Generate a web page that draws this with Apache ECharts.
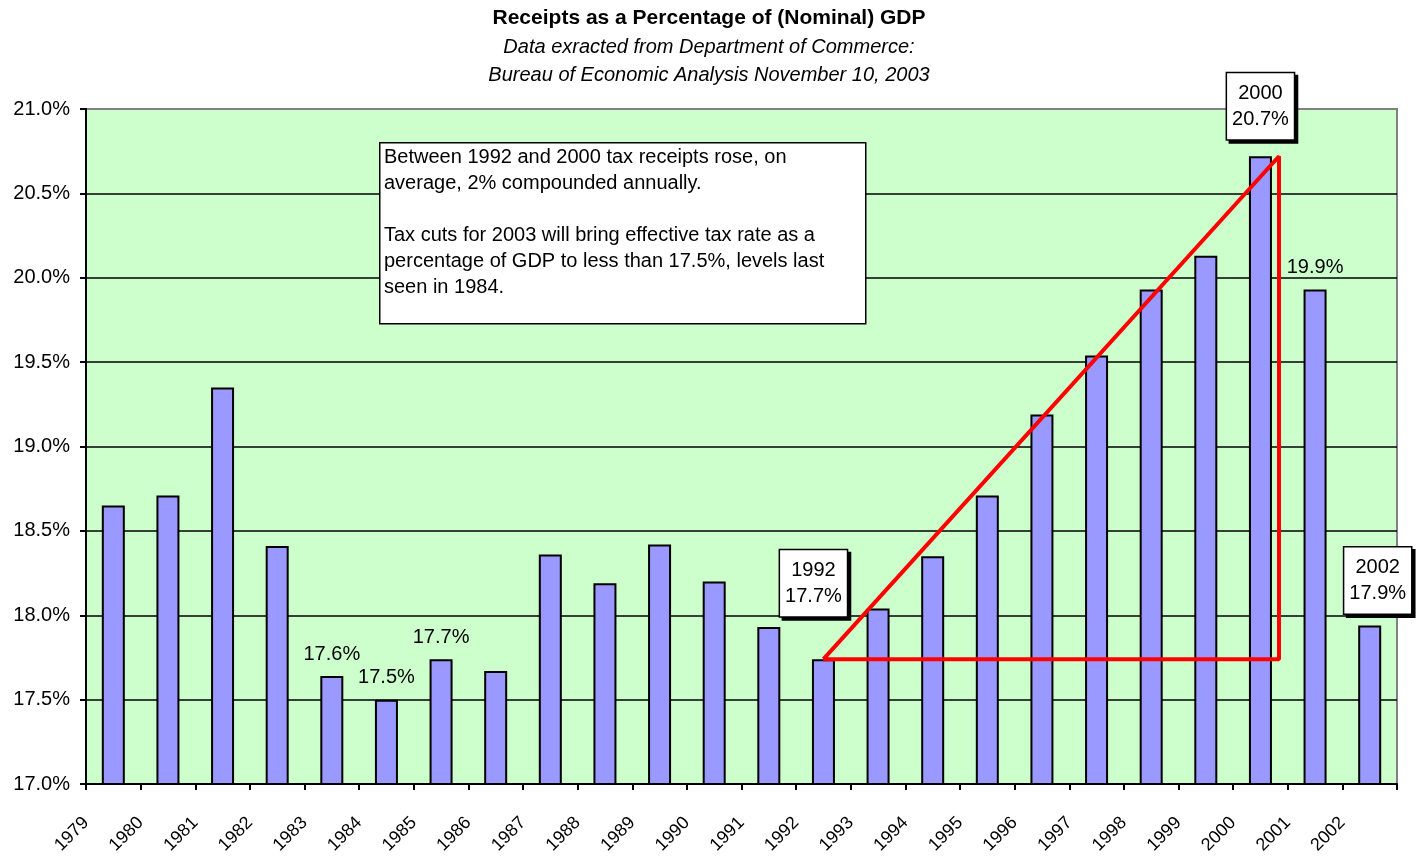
<!DOCTYPE html>
<html>
<head>
<meta charset="utf-8">
<script src="https://cdn.jsdelivr.net/npm/echarts@6/dist/echarts.min.js"></script>
<style>
  html, body { margin: 0; padding: 0; background: #fff; }
  #chart { width: 1418px; height: 860px; }
</style>
</head>
<body>
<div id="chart"></div>
<script>
// ---- data ----
const years = ['1979','1980','1981','1982','1983','1984','1985','1986','1987','1988','1989','1990',
               '1991','1992','1993','1994','1995','1996','1997','1998','1999','2000','2001','2002'];
const receipts = [18.65, 18.71, 19.35, 18.41, 17.64, 17.50, 17.74, 17.67, 18.36, 18.19, 18.42, 18.20,
                  17.93, 17.74, 18.04, 18.35, 18.71, 19.19, 19.54, 19.93, 20.13, 20.72, 19.93, 17.94];
const yMin = 17.0, yMax = 21.0, yStep = 0.5;
const valueLabelYears = ['1983', '1984', '1985', '2001'];
const calloutYears = ['1992', '2000', '2002'];
const trendStartYear = '1992', trendEndYear = '2000';
const titleText = 'Receipts as a Percentage of (Nominal) GDP';
const subtitleLines = ['Data exracted from Department of Commerce:', 'Bureau of Economic Analysis November 10, 2003'];
const noteLines = [
  'Between 1992 and 2000 tax receipts rose, on',
  'average, 2% compounded annually.',
  '',
  'Tax cuts for 2003 will bring effective tax rate as a',
  'percentage of GDP to less than 17.5%, levels last',
  'seen in 1984.'
];

// ---- styling ----
const FONT = '"Liberation Sans", Arial, sans-serif';
const pct = v => v.toFixed(1) + '%';
const calloutPlacement = { '1992': { distance: 43, offset: [-10, 0] },
                           '2000': { distance: 17, offset: [0, 0] },
                           '2002': { distance: 12, offset: [8, 0] } };

const barData = receipts.map((v, i) => {
  const y = years[i];
  if (calloutYears.includes(y)) {
    const p = calloutPlacement[y];
    return { value: v, label: {
      show: true, position: 'top', distance: p.distance, offset: p.offset,
      formatter: y + '\n' + pct(v),
      fontFamily: FONT, fontSize: 20, color: '#000', lineHeight: 26, align: 'center',
      backgroundColor: '#fff', borderColor: '#000', borderWidth: 1.5, padding: [7, 5, 7, 5],
      shadowColor: '#000', shadowOffsetX: 3, shadowOffsetY: 3, shadowBlur: 0
    } };
  }
  if (valueLabelYears.includes(y)) {
    return { value: v, label: { show: true, position: 'top', distance: 12,
      formatter: pct(v), fontFamily: FONT, fontSize: 20, color: '#000' } };
  }
  return v;
});

const iS = years.indexOf(trendStartYear), iE = years.indexOf(trendEndYear);
const base = receipts[iS], peak = receipts[iE];
const apexX = iE + 0.5 + 0.34;
const trendData = [[iS + 0.5, base], [apexX, peak], [apexX, base], [iS + 0.5, base]];

const splitColors = [];
for (let v = yMin; v <= yMax + 1e-9; v += yStep) splitColors.push(v >= yMax - 1e-9 ? '#808080' : '#000');

const chart = echarts.init(document.getElementById('chart'), null, { renderer: 'canvas' });
chart.setOption({
  animation: false,
  backgroundColor: '#fff',
  textStyle: { fontFamily: FONT },
  title: {
    text: titleText,
    subtext: subtitleLines.join('\n'),
    left: 'center', top: 6, padding: 0, itemGap: 3,
    textStyle: { fontFamily: FONT, fontSize: 21, fontWeight: 'bold', color: '#000', lineHeight: 24 },
    subtextStyle: { fontFamily: FONT, fontSize: 20, fontStyle: 'italic', color: '#000', lineHeight: 28 }
  },
  grid: { left: 86, right: 21, top: 109, bottom: 76, show: true,
          backgroundColor: '#ccffcc', borderColor: '#808080', borderWidth: 2 },
  xAxis: [{
    type: 'category', data: years, position: 'bottom',
    axisLine: { show: true, lineStyle: { color: '#000', width: 2 } },
    axisTick: { show: false }, axisLabel: { show: false }, splitLine: { show: false }
  }, {
    type: 'value', min: 0, max: years.length, interval: 1, position: 'bottom',
    axisLine: { show: false },
    axisTick: { show: true, length: 6, lineStyle: { color: '#000', width: 2 } },
    splitLine: { show: false },
    axisLabel: { show: true, rotate: 45, margin: 36, fontFamily: FONT, fontSize: 18, color: '#000',
                 formatter: v => (years[v] !== undefined ? years[v] : '') }
  }],
  yAxis: {
    type: 'value', min: yMin, max: yMax, interval: yStep,
    axisLine: { show: true, lineStyle: { color: '#000', width: 2 } },
    axisTick: { show: true, length: 6, lineStyle: { color: '#000', width: 2 } },
    axisLabel: { margin: 16, fontFamily: FONT, fontSize: 20, color: '#000', formatter: v => pct(v) },
    splitLine: { show: true, lineStyle: { color: splitColors, width: 1.5 } }
  },
  series: [{
    type: 'bar', xAxisIndex: 0, data: barData, barWidth: 23,
    itemStyle: { color: '#9999ff', borderColor: '#000', borderWidth: 2 },
    z: 2
  }, {
    type: 'line', xAxisIndex: 1, data: trendData, symbol: 'none', silent: true,
    lineStyle: { color: '#ff0000', width: 4 }, z: 5, clip: false
  }],
  graphic: [{
    type: 'rect', left: 379, top: 142, z: 100,
    shape: { x: 0, y: 0, width: 486, height: 181 },
    style: { fill: '#fff', stroke: '#000', lineWidth: 1.5 }
  }, {
    type: 'text', left: 384, top: 144, z: 101,
    style: { text: noteLines.join('\n'), font: '20px ' + FONT, fill: '#000', lineHeight: 26 }
  }]
});
</script>
</body>
</html>
